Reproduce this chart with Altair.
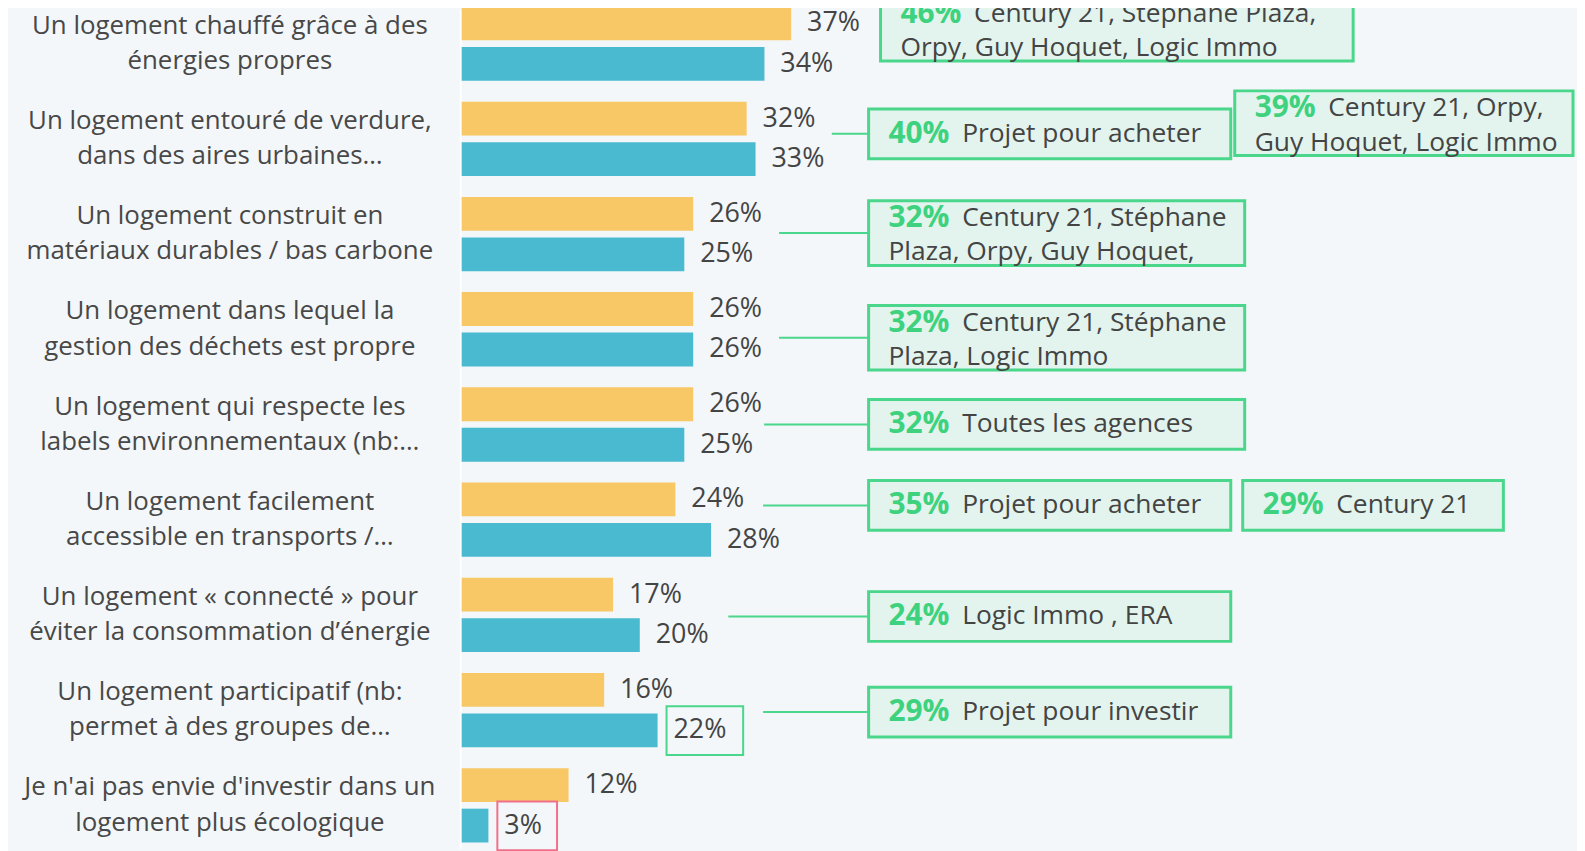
import altair as alt
import pandas as pd

# ---------------- data ----------------
categories = [
    "Un logement chauffé grâce à des\nénergies propres",
    "Un logement entouré de verdure,\ndans des aires urbaines…",
    "Un logement construit en\nmatériaux durables / bas carbone",
    "Un logement dans lequel la\ngestion des déchets est propre",
    "Un logement qui respecte les\nlabels environnementaux (nb:…",
    "Un logement facilement\naccessible en transports /…",
    "Un logement « connecté » pour\néviter la consommation d’énergie",
    "Un logement participatif (nb:\npermet à des groupes de…",
    "Je n'ai pas envie d'investir dans un\nlogement plus écologique",
]
series_names = ["Série 1", "Série 2"]
yellow_values = [37, 32, 26, 26, 26, 24, 17, 16, 12]
blue_values = [34, 33, 25, 26, 25, 28, 20, 22, 3]

callout_rows = [0, 1, 1, 2, 3, 4, 5, 5, 6, 7]
callout_pct = ["46%", "40%", "39%", "32%", "32%", "32%", "35%", "29%", "24%", "29%"]
callout_line1 = ["Century 21, Stéphane Plaza,", "Projet pour acheter", "Century 21, Orpy,",
                 "Century 21, Stéphane", "Century 21, Stéphane", "Toutes les agences",
                 "Projet pour acheter", "Century 21", "Logic Immo , ERA", "Projet pour investir"]
callout_line2 = ["Orpy, Guy Hoquet, Logic Immo", "", "Guy Hoquet, Logic Immo",
                 "Plaza, Orpy, Guy Hoquet,", "Plaza, Logic Immo", "", "", "", "", ""]

# highlighted value labels (row, series)
badge_rows = [7, 8]
badge_series = [1, 1]

# ---------------- layout / style ----------------
FONT = "Open Sans"
BG = "#F3F7F9"
YELLOW = "#F8C866"
BLUE = "#4ABAD1"
TXT = "#444444"
GREEN = "#4AD68B"
GREEN_TXT = "#3ED27F"
BOX_FILL = "#E2F4ED"
PINK = "#F0708A"

W, H = 1577, 843
PX_PER_PCT = 8.95
ZERO_X = 456
OFF = 2  # page -> plot shift for hand-placed callouts
x_scale = alt.Scale(domain=[-ZERO_X / PX_PER_PCT, (W - ZERO_X) / PX_PER_PCT], nice=False, zero=False)
y_scale = alt.Scale(domain=categories, range=[-14.2, 847.1], paddingInner=0.2194, paddingOuter=0.1097)
yoff_scale = alt.Scale(domain=series_names, paddingInner=0.1646, paddingOuter=0)
Y = alt.Y("cat:N", scale=y_scale, axis=None)

# callout placement (page px): left, right, vertical shift, height, connector start
callout_layout = [
    (879, 1354, -15, 65, None),
    (867, 1231, -5, 50, 830),
    (1235, 1575, -15.7, 65, None),
    (867, 1245, -1, 65, 777),
    (867, 1245, 8.5, 65, 777),
    (867, 1245, 0, 50, 762),
    (867, 1231, -14.3, 50, 761),
    (1243, 1505, -14.3, 50, None),
    (867, 1231, 1.6, 50, 726),
    (867, 1231, 2, 50, 761),
]
badge_layout = [(GREEN, 77), (PINK, 60)]

# ---------------- tables ----------------
rows = []
for i, c in enumerate(categories):
    rows.append({"cat": c, "series": series_names[0], "value": yellow_values[i]})
    rows.append({"cat": c, "series": series_names[1], "value": blue_values[i]})
df = pd.DataFrame(rows)
df["label"] = df["value"].astype(str) + "%"

axis_line = alt.Chart(pd.DataFrame({"z": [0]})).mark_rule(
    color="white", strokeWidth=2, xOffset=-1
).encode(x=alt.X("z:Q", scale=x_scale, axis=None))

bars = alt.Chart(df).mark_bar().encode(
    x=alt.X("value:Q", scale=x_scale, axis=None),
    x2=alt.datum(0),
    y=Y,
    yOffset=alt.YOffset("series:N", scale=yoff_scale),
    color=alt.Color("series:N", scale=alt.Scale(domain=series_names, range=[YELLOW, BLUE]), legend=None),
)

values = alt.Chart(df).mark_text(
    align="left", baseline="middle", dx=16, font=FONT, fontSize=27, color=TXT
).encode(
    x=alt.X("value:Q", scale=x_scale, axis=None),
    y=Y,
    yOffset=alt.YOffset("series:N", scale=yoff_scale),
    text="label:N",
)

cat_labels = alt.Chart(pd.DataFrame({"cat": categories})).mark_text(
    align="center", baseline="middle", lineBreak="\n", lineHeight=35.5, yOffset=-18,
    font=FONT, fontSize=26, color="#484848"
).encode(x=alt.value(223), y=Y, text="cat:N")

layers = [axis_line, bars, values, cat_labels]

# badges around some value labels
for k, (r, s) in enumerate(zip(badge_rows, badge_series)):
    val = (yellow_values if s == 0 else blue_values)[r]
    d = pd.DataFrame({"cat": [categories[r]], "value": [val]})
    col, w = badge_layout[k]
    layers.append(
        alt.Chart(d).mark_rect(
            fill=None, stroke=col, strokeWidth=2, height=49, yOffset=20.6,
            xOffset=9, x2Offset=9 + w,
        ).encode(
            x=alt.X("value:Q", scale=x_scale, axis=None),
            x2="value:Q",
            y=Y,
        )
    )

# callout boxes
for k, r in enumerate(callout_rows):
    x0, x1, dy, h, cs = callout_layout[k]
    d = pd.DataFrame({"cat": [categories[r]], "pct": [callout_pct[k]],
                      "l1": [callout_line1[k]], "l2": [callout_line2[k]]})
    base = alt.Chart(d)
    two = callout_line2[k] != ""
    if cs is not None:
        layers.append(base.mark_rule(color=GREEN, strokeWidth=2, yOffset=dy).encode(
            x=alt.value(cs - OFF), x2=alt.value(x0 - OFF), y=Y))
    layers.append(base.mark_rect(fill=BOX_FILL, stroke=GREEN, strokeWidth=3, height=h, yOffset=dy).encode(
        x=alt.value(x0 - OFF), x2=alt.value(x1 - OFF), y=Y))
    y1 = dy - 15 if two else dy
    layers.append(base.mark_text(align="left", baseline="middle", font=FONT, fontSize=30,
                                 fontWeight="bold", color=GREEN_TXT, yOffset=y1).encode(
        x=alt.value(x0 + 20 - OFF), y=Y, text="pct:N"))
    layers.append(base.mark_text(align="left", baseline="middle", font=FONT, fontSize=26.5,
                                 color=TXT, yOffset=y1).encode(
        x=alt.value(x0 + 20 + 74 - OFF), y=Y, text="l1:N"))
    if two:
        layers.append(base.mark_text(align="left", baseline="middle", font=FONT, fontSize=26.5,
                                     color=TXT, yOffset=dy + 19.5).encode(
            x=alt.value(x0 + 20 - OFF), y=Y, text="l2:N"))

chart = alt.layer(*layers).properties(
    width=W, height=H, background=BG,
    autosize=alt.AutoSizeParams(type="none"),
    padding={"left": 0, "top": 0, "right": 0, "bottom": 0},
).configure_view(stroke=None)

chart.save("out.html", embed_options={"renderer": "svg", "actions": False})
